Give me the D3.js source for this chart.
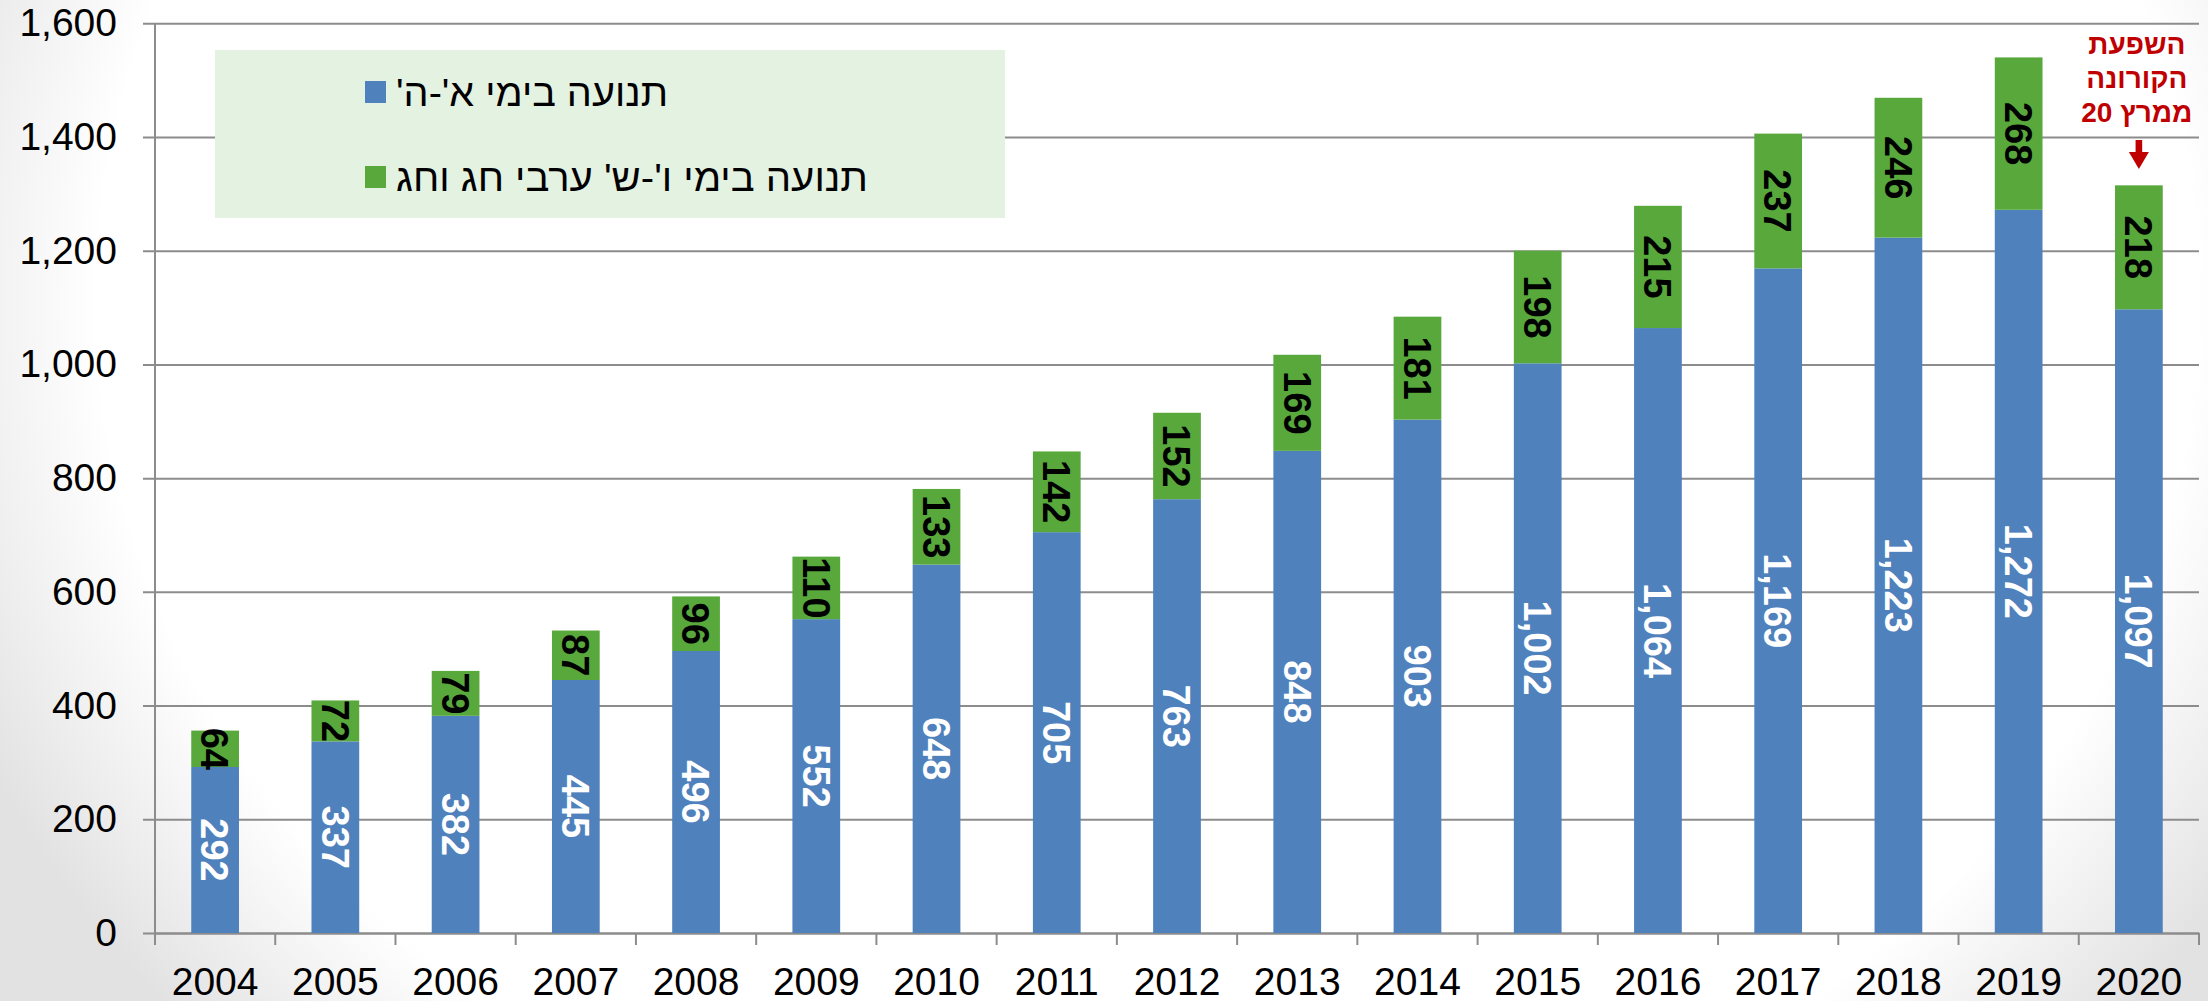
<!DOCTYPE html>
<html>
<head>
<meta charset="utf-8">
<script src="https://cdn.jsdelivr.net/npm/d3@7"></script>
<style>
  html, body { margin: 0; padding: 0; }
  body {
    width: 2208px; height: 1001px; overflow: hidden;
    background: radial-gradient(ellipse 58% 110% at 52% 30%, #ffffff 82%, #e2e2e2 100%);
  }
  svg { display: block; font-family: "Liberation Sans", Arial, sans-serif; }
</style>
</head>
<body>
<div class="chart"></div>
<script>
// values
const years = ["2004","2005","2006","2007","2008","2009","2010","2011","2012","2013","2014","2015","2016","2017","2018","2019","2020"];
const weekdays = [292,337,382,445,496,552,648,705,763,848,903,1002,1064,1169,1223,1272,1097];
const weekends = [64,72,79,87,96,110,133,142,152,169,181,198,215,237,246,268,218];
const yTicks = [0,200,400,600,800,1000,1200,1400,1600];
const seriesNames = ["תנועה בימי א'-ה'", "תנועה בימי ו'-ש' ערבי חג וחג"];
const noteLines = ["השפעת", "הקורונה", "ממרץ 20"];

const width = 2208, height = 1001;
const plotLeft = 155, plotRight = 2199, plotTop = 23.3, plotBottom = 933;
const blue = "#4f81bd", green = "#58a83c", gridColor = "#8c8c8c";

const svg = d3.select(".chart").append("svg")
    .attr("width", width)
    .attr("height", height);

const x = d3.scaleBand()
    .domain(years)
    .range([plotLeft, plotRight])
    .paddingInner(0.603)
    .paddingOuter(0.3015);

const y = d3.scaleLinear()
    .domain([0, 1600])
    .range([plotBottom, plotTop]);

const rows = years.map((yr, i) => ({year: yr, a: weekdays[i], b: weekends[i]}));

// y axis + gridlines
const yAxis = svg.append("g")
    .attr("transform", `translate(${plotLeft},0)`)
    .call(d3.axisLeft(y).tickValues(yTicks).tickSize(-(plotRight - plotLeft)).tickPadding(38).tickFormat(d3.format(",")));
yAxis.select(".domain").remove();
yAxis.selectAll(".tick line")
    .attr("x1", -12)
    .attr("stroke", gridColor)
    .attr("stroke-width", 2);
yAxis.selectAll(".tick text")
    .attr("font-size", 39)
    .attr("fill", "#000");
svg.append("line")
    .attr("x1", plotLeft).attr("x2", plotLeft)
    .attr("y1", plotTop).attr("y2", plotBottom)
    .attr("stroke", gridColor).attr("stroke-width", 2);

// x axis
const xAxis = svg.append("g")
    .attr("transform", `translate(0,${plotBottom})`)
    .call(d3.axisBottom(x).tickSize(0).tickSizeOuter(0).tickPadding(34));
xAxis.select(".domain").attr("stroke", gridColor).attr("stroke-width", 2);
xAxis.selectAll(".tick text").attr("font-size", 39).attr("fill", "#000");

// tick marks between categories
const step = x.step();
svg.append("g").selectAll("line")
    .data(d3.range(years.length + 1))
  .enter().append("line")
    .attr("x1", d => plotLeft + d * step)
    .attr("x2", d => plotLeft + d * step)
    .attr("y1", plotBottom)
    .attr("y2", plotBottom + 12)
    .attr("stroke", gridColor)
    .attr("stroke-width", 2);

// bars
const bars = svg.append("g");
bars.selectAll("rect.a")
    .data(rows)
  .enter().append("rect")
    .attr("class", "a")
    .attr("x", d => x(d.year))
    .attr("width", x.bandwidth())
    .attr("y", d => y(d.a))
    .attr("height", d => y(0) - y(d.a))
    .attr("fill", blue);
bars.selectAll("rect.b")
    .data(rows)
  .enter().append("rect")
    .attr("class", "b")
    .attr("x", d => x(d.year))
    .attr("width", x.bandwidth())
    .attr("y", d => y(d.a + d.b))
    .attr("height", d => y(d.a) - y(d.a + d.b))
    .attr("fill", green);

// rotated value labels
const fmt = d3.format(",");
const labels = svg.append("g")
    .attr("font-size", 38)
    .attr("font-weight", "bold")
    .attr("text-anchor", "middle");
labels.selectAll("text.a")
    .data(rows)
  .enter().append("text")
    .attr("class", "a")
    .attr("transform", d => `translate(${x(d.year) + x.bandwidth() / 2},${(y(0) + y(d.a)) / 2}) rotate(90)`)
    .attr("dy", "0.36em")
    .attr("fill", "#fff")
    .text(d => fmt(d.a));
labels.selectAll("text.b")
    .data(rows)
  .enter().append("text")
    .attr("class", "b")
    .attr("transform", d => `translate(${x(d.year) + x.bandwidth() / 2},${(y(d.a) + y(d.a + d.b)) / 2}) rotate(90)`)
    .attr("dy", "0.36em")
    .attr("fill", "#000")
    .text(d => fmt(d.b));

// legend
const legend = svg.append("g");
legend.append("rect")
    .attr("x", 215).attr("y", 50)
    .attr("width", 790).attr("height", 168)
    .attr("fill", "#e3f2e1");
const legendItems = [
  {name: seriesNames[0], color: blue, y: 81, w: 272},
  {name: seriesNames[1], color: green, y: 166, w: 472}
];
const li = legend.selectAll("g.item")
    .data(legendItems)
  .enter().append("g")
    .attr("class", "item");
li.append("rect")
    .attr("x", 365)
    .attr("y", d => d.y)
    .attr("width", 21)
    .attr("height", 22)
    .attr("fill", d => d.color);
li.append("text")
    .attr("x", 396)
    .attr("y", d => d.y + 25)
    .attr("direction", "rtl")
    .attr("text-anchor", "end")
    .attr("font-size", 38)
    .attr("textLength", d => d.w)
    .attr("lengthAdjust", "spacingAndGlyphs")
    .attr("fill", "#000")
    .text(d => d.name);

// covid note above the last bar
const cx = x("2020") + x.bandwidth() / 2;
const note = svg.append("g")
    .attr("fill", "#c00000")
    .attr("font-weight", "bold")
    .attr("font-size", 28)
    .attr("text-anchor", "middle")
    .attr("direction", "rtl");
note.selectAll("text")
    .data(noteLines)
  .enter().append("text")
    .attr("x", cx - 2)
    .attr("y", (d, i) => 54 + i * 34)
    .text(d => d);
note.append("rect")
    .attr("x", cx - 3.3).attr("y", 140)
    .attr("width", 6.6).attr("height", 13)
    .attr("fill", "#c00000");
note.append("path")
    .attr("d", `M${cx - 10},152 L${cx + 10},152 L${cx},169 Z`)
    .attr("fill", "#c00000");
</script>
</body>
</html>
